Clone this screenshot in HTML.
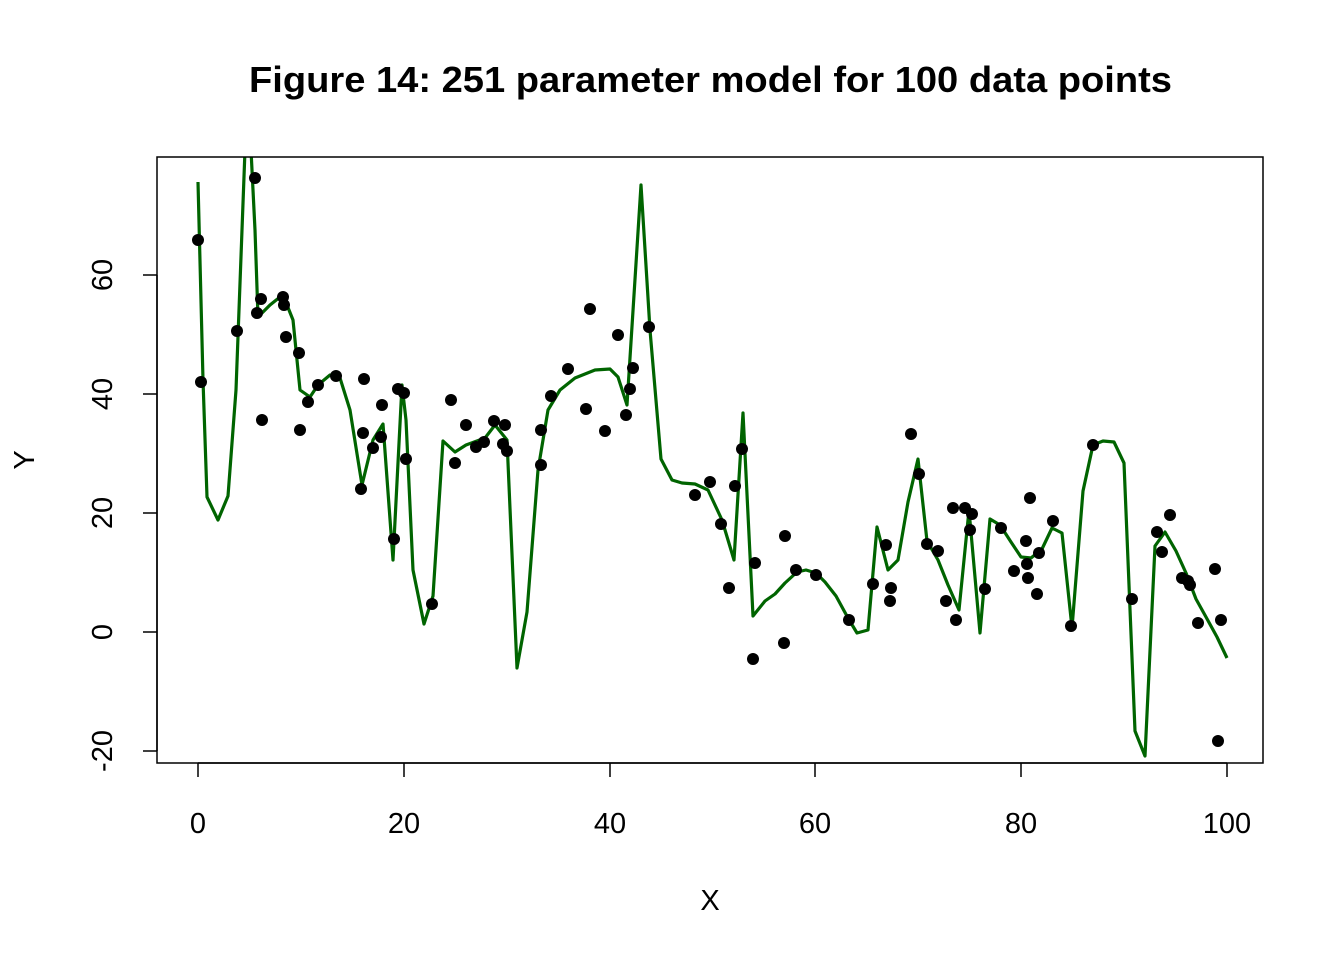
<!DOCTYPE html>
<html><head><style>body{margin:0;background:#fff}</style></head><body>
<svg width="1344" height="960" xmlns="http://www.w3.org/2000/svg" font-family="Liberation Sans, Arial, sans-serif">
<rect width="1344" height="960" fill="#fff"/>
<text x="249" y="92" font-size="36" font-weight="bold" textLength="923" lengthAdjust="spacingAndGlyphs">Figure 14: 251 parameter model for 100 data points</text>
<defs><clipPath id="c"><rect x="157" y="157" width="1106" height="606"/></clipPath></defs>
<g clip-path="url(#c)">
<polyline fill="none" stroke="#006400" stroke-width="3.2" stroke-linejoin="round" points="198,182 203,380 207,497 218,520 228,496 236,390 245,150 251,150 255,230 258,317 270,305 280,297 285,300 293,320 300,390 310,397 318,385 330,375 340,378 350,410 362,485 373,440 383,424 393,560 402,385 406,420 413,570 424,624 433,596 443,441 455,452 466,445 485,438 495,425 507,440 517,668 527,612 538,470 548,410 560,390 575,378 595,370 610,369 618,377 627,405 641,185 650,330 661,459 672,480 682,483 695,484 708,490 722,520 734,560 743,413 753,616 765,601 775,594 785,583 797,572 806,570 816,573 825,582 836,596 848,618 857,633 868,630 877,527 888,570 898,560 908,502 918,459 927,541 938,560 948,585 959,610 969,510 980,633 990,519 1000,525 1011,542 1021,557 1031,558 1042,549 1052,528 1062,533 1072,628 1083,491 1093,445 1103,441 1114,442 1124,463 1135,731 1145,756 1155,546 1165,532 1176,551 1186,573 1196,599 1206,617 1217,637 1227,658"/>
<g fill="#000">
<circle cx="198" cy="240" r="6"/><circle cx="201" cy="382" r="6"/><circle cx="237" cy="331" r="6"/><circle cx="255" cy="178" r="6"/><circle cx="257" cy="313" r="6"/><circle cx="261" cy="299" r="6"/><circle cx="262" cy="420" r="6"/><circle cx="283" cy="297" r="6"/><circle cx="284" cy="305" r="6"/><circle cx="286" cy="337" r="6"/><circle cx="299" cy="353" r="6"/><circle cx="300" cy="430" r="6"/><circle cx="308" cy="402" r="6"/><circle cx="318" cy="385" r="6"/><circle cx="336" cy="376" r="6"/><circle cx="361" cy="489" r="6"/><circle cx="363" cy="433" r="6"/><circle cx="364" cy="379" r="6"/><circle cx="373" cy="448" r="6"/><circle cx="381" cy="437" r="6"/><circle cx="382" cy="405" r="6"/><circle cx="394" cy="539" r="6"/><circle cx="398" cy="389" r="6"/><circle cx="404" cy="393" r="6"/><circle cx="406" cy="459" r="6"/><circle cx="432" cy="604" r="6"/><circle cx="451" cy="400" r="6"/><circle cx="455" cy="463" r="6"/><circle cx="466" cy="425" r="6"/><circle cx="476" cy="447" r="6"/><circle cx="484" cy="442" r="6"/><circle cx="494" cy="421" r="6"/><circle cx="503" cy="444" r="6"/><circle cx="507" cy="451" r="6"/><circle cx="505" cy="425" r="6"/><circle cx="541" cy="465" r="6"/><circle cx="541" cy="430" r="6"/><circle cx="551" cy="396" r="6"/><circle cx="568" cy="369" r="6"/><circle cx="586" cy="409" r="6"/><circle cx="590" cy="309" r="6"/><circle cx="605" cy="431" r="6"/><circle cx="618" cy="335" r="6"/><circle cx="626" cy="415" r="6"/><circle cx="630" cy="389" r="6"/><circle cx="633" cy="368" r="6"/><circle cx="649" cy="327" r="6"/><circle cx="695" cy="495" r="6"/><circle cx="710" cy="482" r="6"/><circle cx="721" cy="524" r="6"/><circle cx="729" cy="588" r="6"/><circle cx="735" cy="486" r="6"/><circle cx="742" cy="449" r="6"/><circle cx="753" cy="659" r="6"/><circle cx="755" cy="563" r="6"/><circle cx="784" cy="643" r="6"/><circle cx="785" cy="536" r="6"/><circle cx="796" cy="570" r="6"/><circle cx="816" cy="575" r="6"/><circle cx="849" cy="620" r="6"/><circle cx="873" cy="584" r="6"/><circle cx="886" cy="545" r="6"/><circle cx="890" cy="601" r="6"/><circle cx="891" cy="588" r="6"/><circle cx="911" cy="434" r="6"/><circle cx="919" cy="474" r="6"/><circle cx="927" cy="544" r="6"/><circle cx="938" cy="551" r="6"/><circle cx="946" cy="601" r="6"/><circle cx="953" cy="508" r="6"/><circle cx="956" cy="620" r="6"/><circle cx="965" cy="508" r="6"/><circle cx="970" cy="530" r="6"/><circle cx="972" cy="514" r="6"/><circle cx="985" cy="589" r="6"/><circle cx="1001" cy="528" r="6"/><circle cx="1014" cy="571" r="6"/><circle cx="1026" cy="541" r="6"/><circle cx="1027" cy="564" r="6"/><circle cx="1028" cy="578" r="6"/><circle cx="1030" cy="498" r="6"/><circle cx="1037" cy="594" r="6"/><circle cx="1039" cy="553" r="6"/><circle cx="1053" cy="521" r="6"/><circle cx="1071" cy="626" r="6"/><circle cx="1093" cy="445" r="6"/><circle cx="1132" cy="599" r="6"/><circle cx="1157" cy="532" r="6"/><circle cx="1162" cy="552" r="6"/><circle cx="1170" cy="515" r="6"/><circle cx="1182" cy="578" r="6"/><circle cx="1188" cy="581" r="6"/><circle cx="1190" cy="585" r="6"/><circle cx="1198" cy="623" r="6"/><circle cx="1215" cy="569" r="6"/><circle cx="1218" cy="741" r="6"/><circle cx="1221" cy="620" r="6"/>
</g></g>
<rect x="157" y="157" width="1106" height="606" fill="none" stroke="#000" stroke-width="1.5"/>
<g stroke="#000" stroke-width="1.5">
<line x1="198" y1="763" x2="1227" y2="763"/>
<line x1="198" y1="763" x2="198" y2="777"/><line x1="404" y1="763" x2="404" y2="777"/><line x1="610" y1="763" x2="610" y2="777"/><line x1="815" y1="763" x2="815" y2="777"/><line x1="1021" y1="763" x2="1021" y2="777"/><line x1="1227" y1="763" x2="1227" y2="777"/>
<line x1="157" y1="275" x2="157" y2="751"/>
<line x1="143" y1="275" x2="157" y2="275"/><line x1="143" y1="394" x2="157" y2="394"/><line x1="143" y1="513" x2="157" y2="513"/><line x1="143" y1="632" x2="157" y2="632"/><line x1="143" y1="751" x2="157" y2="751"/>
</g>
<g font-size="29" text-anchor="middle">
<text x="198" y="833">0</text><text x="404" y="833">20</text><text x="610" y="833">40</text><text x="815" y="833">60</text><text x="1021" y="833">80</text><text x="1227" y="833">100</text>
<text x="710" y="910">X</text>
<text transform="translate(112,275) rotate(-90)">60</text>
<text transform="translate(112,394) rotate(-90)">40</text>
<text transform="translate(112,513) rotate(-90)">20</text>
<text transform="translate(112,632) rotate(-90)">0</text>
<text transform="translate(112,751) rotate(-90)">-20</text>
<text transform="translate(34,460) rotate(-90)">Y</text>
</g>
</svg>
</body></html>
